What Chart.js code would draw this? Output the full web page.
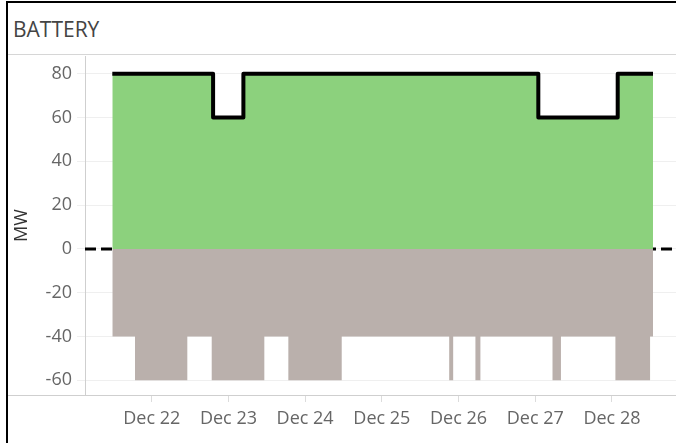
<!DOCTYPE html>
<html>
<head>
<meta charset="utf-8">
<script src="https://cdn.jsdelivr.net/npm/chart.js@4/dist/chart.umd.min.js"></script>
<style>
    body { margin: 0; background: #fff; font-family: "Open Sans", sans-serif; overflow: hidden; }
    .edge { position: absolute; background: #000; }
    #header {
        position: absolute; left: 8px; top: 3px; width: 668px;
        height: 52px; line-height: 52px; border-bottom: 1px solid #d6d6d6;
        padding-left: 5px; box-sizing: border-box; font-size: 21px; color: #444;
    }
    #chart { position: absolute; left: 8px; top: 56px; }
</style>
</head>
<body>
<div class="edge" style="left:6px; top:1px; width:2px; height:442px;"></div>
<div class="edge" style="left:6px; top:1px; width:670px; height:2px;"></div>
<div id="header">BATTERY</div>
<canvas id="chart" width="668" height="387"></canvas>
<script>
// x values are days of December (fractional = time of day)
const dayTicks = [22, 23, 24, 25, 26, 27, 28];
const dayLabels = ['Dec 22', 'Dec 23', 'Dec 24', 'Dec 25', 'Dec 26', 'Dec 27', 'Dec 28'];

// discharge capacity (black line, green fill)
const capTimes = [21.486, 22.80, 23.195, 27.04, 28.075, 28.535];
const capValues = [80, 60, 80, 60, 80, 80];

// charge capacity (grey fill)
const chargeTimes = [21.486, 21.782, 22.464, 22.782, 23.468, 23.781, 24.477,
    25.878, 25.93, 26.22, 26.285, 27.225, 27.335, 28.045, 28.497, 28.535];
const chargeValues = [-40, -60, -40, -60, -40, -60, -40,
    -60, -40, -60, -40, -60, -40, -60, -40, -40];

const xMin = 21.13, xMax = 28.835;
const yMin = -66.7, yMax = 88.1;

const toPoints = (xs, ys) => xs.map((x, i) => ({ x: x, y: ys[i] }));

// pane divider under the y axis labels
const paneLine = {
    id: 'paneLine',
    afterDraw(chart) {
        const { ctx, chartArea } = chart;
        ctx.save();
        ctx.strokeStyle = '#cfcfcf';
        ctx.lineWidth = 1;
        ctx.beginPath();
        ctx.moveTo(0, chartArea.bottom + 0.5);
        ctx.lineTo(chartArea.left, chartArea.bottom + 0.5);
        ctx.stroke();
        ctx.restore();
    }
};

new Chart(document.getElementById('chart').getContext('2d'), {
    type: 'line',
    data: {
        datasets: [
            {
                label: 'Discharge',
                data: toPoints(capTimes, capValues),
                stepped: 'before',
                borderColor: '#000',
                borderWidth: 4,
                borderJoinStyle: 'round',
                borderCapStyle: 'butt',
                backgroundColor: '#8cd17d',
                fill: 'origin',
                pointRadius: 0,
                order: 1
            },
            {
                label: 'Charge',
                data: toPoints(chargeTimes, chargeValues),
                stepped: 'before',
                borderWidth: 0,
                borderColor: 'rgba(0,0,0,0)',
                backgroundColor: '#bab0ac',
                fill: 'origin',
                pointRadius: 0,
                order: 2
            },
            {
                label: 'Zero',
                data: [{ x: xMin, y: 0 }, { x: xMax, y: 0 }],
                borderColor: '#000',
                borderWidth: 3,
                borderDash: [11, 5],
                fill: false,
                pointRadius: 0,
                order: 3
            }
        ]
    },
    options: {
        responsive: false,
        animation: false,
        layout: { padding: 0 },
        plugins: { legend: { display: false }, tooltip: { enabled: false } },
        scales: {
            x: {
                type: 'linear',
                min: xMin,
                max: xMax,
                afterBuildTicks: s => { s.ticks = dayTicks.map(v => ({ value: v })); },
                afterFit: s => { s.height = 48; s.paddingLeft = 0; s.paddingRight = 0; },
                grid: { drawOnChartArea: false, drawTicks: true, tickLength: 7, color: '#dcdcdc' },
                border: { display: true, color: '#cfcfcf' },
                ticks: {
                    autoSkip: false, maxRotation: 0, padding: 6,
                    color: '#666', font: { family: 'Open Sans', size: 18 },
                    callback: v => dayLabels[dayTicks.indexOf(v)]
                }
            },
            y: {
                min: yMin,
                max: yMax,
                afterFit: s => { s.width = 77; s.paddingTop = 0; s.paddingBottom = 0; },
                grid: { color: '#efefef', tickLength: 8, drawTicks: true },
                border: { display: true, color: '#cfcfcf' },
                ticks: {
                    stepSize: 10, includeBounds: false, padding: 5,
                    color: '#666', font: { family: 'Open Sans', size: 18 },
                    callback: v => (v % 20 === 0 ? v : '')
                },
                title: {
                    display: true, text: 'MW', color: '#333',
                    font: { family: 'Open Sans', size: 18 },
                    padding: { top: 3, bottom: 0 }
                }
            }
        }
    },
    plugins: [paneLine]
});
</script>
</body>
</html>
